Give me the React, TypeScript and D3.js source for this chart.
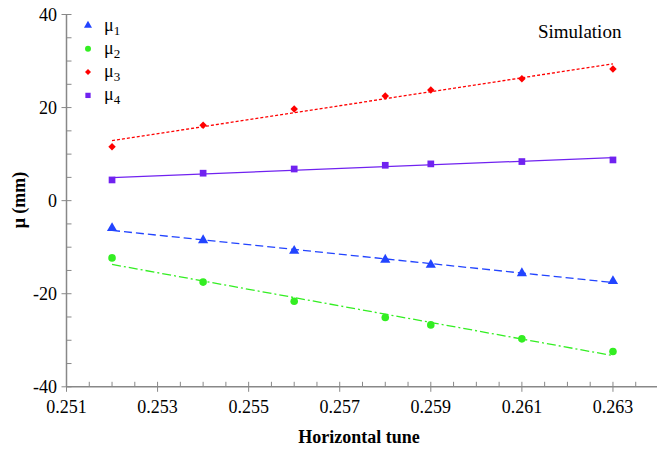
import React from 'react';
import * as d3 from 'd3';

const tunes = [0.252, 0.254, 0.256, 0.258, 0.259, 0.261, 0.263];
const mu1 = [-5.9, -8.5, -10.8, -12.7, -13.8, -15.6, -17.3];
const mu2 = [-12.3, -17.5, -21.6, -25.1, -26.7, -29.7, -32.4];
const mu3 = [11.6, 16.2, 19.7, 22.5, 23.8, 26.2, 28.3];
const mu4 = [4.45, 5.9, 6.8, 7.6, 7.9, 8.4, 8.75];

// linear fit end points at the first and last tune
const fitTunes = [0.252, 0.263];
const fit1 = [-6.4, -17.6];
const fit2 = [-13.7, -33.3];
const fit3 = [12.9, 29.4];
const fit4 = [4.95, 9.25];

const xTicks = [0.251, 0.253, 0.255, 0.257, 0.259, 0.261, 0.263];
const yTicks = [-40, -20, 0, 20, 40];

const series = [
  { sub: '1', values: mu1, fit: fit1, color: '#2244ff', dash: '8,4', symbol: d3.symbolTriangle, rot: 0 },
  { sub: '2', values: mu2, fit: fit2, color: '#33ee22', dash: '9,3,2,3', symbol: d3.symbolCircle, rot: 0 },
  { sub: '3', values: mu3, fit: fit3, color: '#ff0000', dash: '3,2', symbol: d3.symbolSquare, rot: 45 },
  { sub: '4', values: mu4, fit: fit4, color: '#7022f0', dash: null, symbol: d3.symbolSquare, rot: 0 },
];

const W = 657;
const H = 450;
const font = 'Liberation Serif';
const axisColor = '#888';

export default function App() {
  const x = d3.scaleLinear().domain([0.251, 0.264]).range([66.5, 658.5]);
  const y = d3.scaleLinear().domain([-40, 40]).range([386.8, 14.5]);

  const xMinor = d3.range(0.2515, 0.2641, 0.0005).filter(t => !xTicks.some(m => Math.abs(m - t) < 1e-7));
  const yMinor = d3.range(-35, 40, 5).filter(t => t % 20 !== 0);

  const line = d3.line<number>().x((_, i) => x(fitTunes[i])).y(d => y(d));
  const sym = (s: any, big: boolean) =>
    d3.symbol().type(s.symbol).size(s.rot ? (big ? 28 : 18) : (big ? 45 : 28))() || '';

  return (
    <svg width={W} height={H} style={{ position: 'absolute', left: 0, top: 0 }}>
      <rect width={W} height={H} fill="#fff" />

      {/* axes */}
      <line x1={x(0.251)} x2={W} y1={y(-40)} y2={y(-40)} stroke={axisColor} strokeWidth={1.5} />
      <line x1={x(0.251)} x2={x(0.251)} y1={y(-40)} y2={y(40)} stroke={axisColor} strokeWidth={1.5} />

      {xTicks.map(t => (
        <g key={'xt' + t}>
          <line x1={x(t)} x2={x(t)} y1={y(-40) - 5} y2={y(-40) + 5} stroke={axisColor} strokeWidth={1} />
          <text x={x(t)} y={413} textAnchor="middle" style={{ fontFamily: font, fontSize: 18 }}>{t.toFixed(3)}</text>
        </g>
      ))}
      {xMinor.map(t => (
        <line key={'xm' + t} x1={x(t)} x2={x(t)} y1={y(-40) - 5} y2={y(-40)} stroke={axisColor} strokeWidth={1} />
      ))}

      {yTicks.map(t => (
        <g key={'yt' + t}>
          <line x1={x(0.251) - 5} x2={x(0.251) + 5} y1={y(t)} y2={y(t)} stroke={axisColor} strokeWidth={1} />
          <text x={57} y={y(t) + 6} textAnchor="end" style={{ fontFamily: font, fontSize: 18 }}>{t < 0 ? '-' + Math.abs(t) : t}</text>
        </g>
      ))}
      {yMinor.map(t => (
        <line key={'ym' + t} x1={x(0.251)} x2={x(0.251) + 5} y1={y(t)} y2={y(t)} stroke={axisColor} strokeWidth={1} />
      ))}

      <text x={359} y={443} textAnchor="middle" style={{ fontFamily: font, fontSize: 18, fontWeight: 'bold' }}>Horizontal tune</text>
      <text transform="translate(25,200) rotate(-90)" textAnchor="middle" style={{ fontFamily: font, fontSize: 18, fontWeight: 'bold' }}>μ (mm)</text>

      <text x={538} y={38} style={{ fontFamily: font, fontSize: 19 }}>Simulation</text>

      {/* fit lines and points */}
      {series.map(s => (
        <g key={'s' + s.sub}>
          <path d={line(s.fit) || ''} fill="none" stroke={s.color} strokeWidth={1.3}
            strokeDasharray={s.dash || undefined} />
          {s.values.map((v, i) => (
            <path key={i} transform={`translate(${x(tunes[i])},${y(v)}) rotate(${s.rot})`}
              d={sym(s, true)} fill={s.color} />
          ))}
        </g>
      ))}

      {/* legend */}
      {series.map((s, i) => (
        <g key={'l' + s.sub} transform={`translate(88,${25.5 + i * 23.3})`}>
          <path d={sym(s, false)} transform={`rotate(${s.rot})`} fill={s.color} />
          <text x={16} y={5} style={{ fontFamily: font, fontSize: 18 }}>μ<tspan dy={4} style={{ fontSize: 13 }}>{s.sub}</tspan></text>
        </g>
      ))}
    </svg>
  );
}
